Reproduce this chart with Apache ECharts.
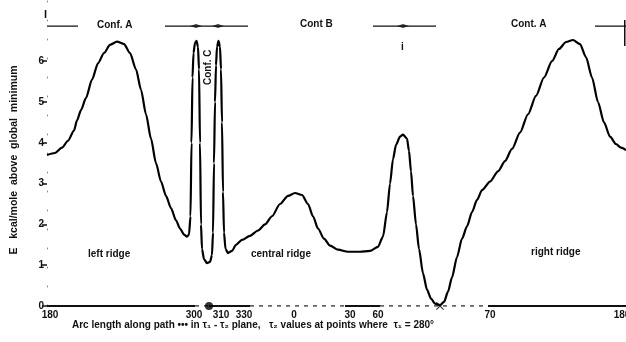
<!DOCTYPE html>
<html>
<head>
<meta charset="utf-8">
<script src="https://cdn.jsdelivr.net/npm/echarts@6/dist/echarts.min.js"></script>
<style>
  html, body { margin: 0; padding: 0; background: #fff; }
  #chart { width: 626px; height: 342px; }
</style>
</head>
<body>
<div id="chart"></div>
<script>
// arc length along the path (arbitrary units, 0 = left 180) and energy in kcal/mole
var arcPos = [0, 8, 15, 21, 27, 30, 34, 39, 45, 51, 57, 63, 70, 77, 83, 89, 94, 99, 104, 109, 114, 119, 124, 129, 133, 137, 140, 142,
  143.5, 144.5, 145.5, 146.5, 148, 149.5, 151, 152, 153, 154, 155, 157, 160, 163, 165, 166, 167, 168, 169, 170, 171.5, 173, 174, 175, 176, 177,
  178.5, 181, 185, 189, 195, 203, 211, 218, 225, 233, 241, 248, 255, 261, 266, 271, 277, 283, 291, 301, 313, 323, 331, 336, 340, 343, 346,
  349, 353, 356, 360, 362, 364, 366, 369, 372, 376, 380, 384, 388, 393, 397, 401, 405, 410, 415, 420, 425, 430, 435, 443, 451, 458, 465,
  473, 481, 489, 497, 505, 512, 519, 526, 533, 539, 545, 551, 557, 563, 569, 574, 579];
var energy = [3.70, 3.75, 3.88, 4.05, 4.30, 4.55, 4.80, 5.10, 5.55, 5.95, 6.20, 6.40, 6.48, 6.42, 6.20, 5.80, 5.30, 4.70, 4.10, 3.50, 3.05, 2.70, 2.40, 2.10, 1.90, 1.75, 1.70, 1.75,
  2.20, 4.00, 5.60, 6.20, 6.45, 6.50, 6.35, 5.80, 4.00, 2.00, 1.40, 1.15, 1.05, 1.08, 1.25, 1.80, 3.50, 5.00, 5.90, 6.35, 6.50, 6.35, 5.80, 4.50, 2.80, 1.80,
  1.40, 1.30, 1.35, 1.50, 1.62, 1.72, 1.85, 2.00, 2.20, 2.50, 2.70, 2.77, 2.72, 2.50, 2.20, 1.90, 1.65, 1.48, 1.38, 1.33, 1.33, 1.35, 1.45, 1.70, 2.30, 3.00, 3.60,
  3.95, 4.15, 4.20, 4.10, 3.80, 3.30, 2.70, 2.00, 1.40, 0.80, 0.40, 0.18, 0.06, 0.02, 0.10, 0.35, 0.70, 1.20, 1.65, 1.95, 2.30, 2.60, 2.84, 3.05, 3.30, 3.55,
  3.85, 4.25, 4.70, 5.15, 5.60, 6.00, 6.30, 6.47, 6.52, 6.42, 6.10, 5.60, 5.00, 4.50, 4.15, 3.97, 3.88, 3.82];

// tick labels on the arc axis: tau2 values
var tickArc = [3, 147, 174, 197, 247, 303, 331, 443, 575];
var tickLabels = ['180', '300', '310', '330', '0', '30', '60', '70', '180'];
var yTicks = [0, 1, 2, 3, 4, 5, 6];

// baseline pieces: solid and dashed runs
var solidRuns = [[0, 148], [162, 203], [298, 333], [441, 579]];
var dashedRuns = [[148, 162], [203, 298], [333, 441]];

// conformation bar at the top
var confLevel = 6.86;
var confRuns = [[0, 31], [118, 201], [326, 389], [548, 579]];
var confMarks = [149, 171, 356];

// special points on the baseline
var dotPoint = [162, 0];
var minPoint = [393, 0];

function runsToData(runs, level) {
  var out = [];
  runs.forEach(function (r, i) {
    if (i > 0) out.push([r[0], null]);
    out.push([r[0], level]);
    out.push([r[1], level]);
  });
  return out;
}

var curve = arcPos.map(function (x, i) { return [x, energy[i]]; });
var font = 'Liberation Sans';

var myChart = echarts.init(document.getElementById('chart'));
myChart.setOption({
  animation: false,
  backgroundColor: '#ffffff',
  grid: { left: 47, right: 0, top: 0, bottom: 36, outerBoundsMode: 'none', containLabel: false },
  xAxis: {
    type: 'value',
    min: 0,
    max: 579,
    axisLine: { show: false },
    splitLine: { show: false },
    axisTick: { show: false },
    axisLabel: {
      customValues: tickArc,
      margin: 4,
      color: '#111',
      fontFamily: font,
      fontWeight: 'bold',
      fontSize: 10,
      formatter: function (v) {
        var i = tickArc.indexOf(v);
        return i >= 0 ? tickLabels[i] : '';
      }
    }
  },
  yAxis: {
    type: 'value',
    min: 0,
    max: 7.5,
    axisLine: { show: true, lineStyle: { color: '#888', width: 1, type: [1, 18] } },
    splitLine: { show: false },
    axisTick: { show: true, customValues: yTicks, length: 5, lineStyle: { color: '#111', width: 1.5 } },
    axisLabel: {
      customValues: yTicks,
      margin: 3,
      color: '#111',
      fontFamily: font,
      fontWeight: 'bold',
      fontSize: 10
    }
  },
  series: [
    {
      type: 'line',
      data: runsToData(solidRuns, 0),
      symbol: 'none',
      connectNulls: false,
      lineStyle: { color: '#111', width: 2 },
      z: 1
    },
    {
      type: 'line',
      data: runsToData(dashedRuns, 0),
      symbol: 'none',
      connectNulls: false,
      lineStyle: { color: '#333', width: 1.5, type: [4, 5] },
      z: 1
    },
    {
      type: 'line',
      data: runsToData(confRuns, confLevel),
      symbol: 'none',
      connectNulls: false,
      lineStyle: { color: '#111', width: 1.3 },
      z: 1
    },
    {
      type: 'scatter',
      data: confMarks.map(function (x) { return [x, confLevel]; }),
      symbol: 'diamond',
      symbolSize: [12, 4],
      itemStyle: { color: '#111' },
      z: 2
    },
    {
      type: 'line',
      data: curve,
      symbol: 'none',
      smooth: 0.25,
      smoothMonotone: 'x',
      lineStyle: { color: '#000', width: 2.2 },
      z: 3
    },
    {
      type: 'scatter',
      data: [dotPoint],
      symbol: 'circle',
      symbolSize: 8,
      itemStyle: { color: '#000' },
      z: 4
    },
    {
      type: 'scatter',
      data: [minPoint],
      symbol: 'path://M0,1L1,0L5,4L9,0L10,1L6,5L10,9L9,10L5,6L1,10L0,9L4,5Z',
      symbolSize: 8,
      itemStyle: { color: '#000' },
      z: 4
    }
  ],
  graphic: [
    { type: 'text', x: 14, y: 160, rotation: Math.PI / 2, style: { text: 'E   kcal/mole  above  global  minimum', font: 'bold 10.5px ' + font, fill: '#111', align: 'center', verticalAlign: 'middle' } },
    { type: 'text', left: 97, top: 20, style: { text: 'Conf. A', font: 'bold 10px ' + font, fill: '#111' } },
    { type: 'text', left: 300, top: 19, style: { text: 'Cont B', font: 'bold 10px ' + font, fill: '#111' } },
    { type: 'text', left: 511, top: 19, style: { text: 'Cont. A', font: 'bold 10px ' + font, fill: '#111' } },
    { type: 'text', x: 203, y: 85, rotation: Math.PI / 2, style: { text: 'Conf. C', font: 'bold 10px ' + font, fill: '#111' } },
    { type: 'text', left: 44, top: 9, style: { text: 'I', font: 'bold 11px ' + font, fill: '#111' } },
    { type: 'text', left: 401, top: 42, style: { text: 'i', font: 'bold 10px ' + font, fill: '#111' } },
    { type: 'rect', shape: { x: 624, y: 20, width: 1.5, height: 26 }, style: { fill: '#111' } },
    { type: 'text', left: 88, top: 249, style: { text: 'left ridge', font: 'bold 10px ' + font, fill: '#111' } },
    { type: 'text', left: 251, top: 249, style: { text: 'central ridge', font: 'bold 10px ' + font, fill: '#111' } },
    { type: 'text', left: 531, top: 247, style: { text: 'right ridge', font: 'bold 10px ' + font, fill: '#111' } },
    { type: 'text', left: 72, top: 320, style: { text: 'Arc length along path \u2022\u2022\u2022 in \u03c4\u2081 - \u03c4\u2082 plane,   \u03c4\u2082 values at points where  \u03c4\u2081 = 280\u00b0', font: 'bold 10px ' + font, fill: '#111' } }
  ]
});
</script>
</body>
</html>
